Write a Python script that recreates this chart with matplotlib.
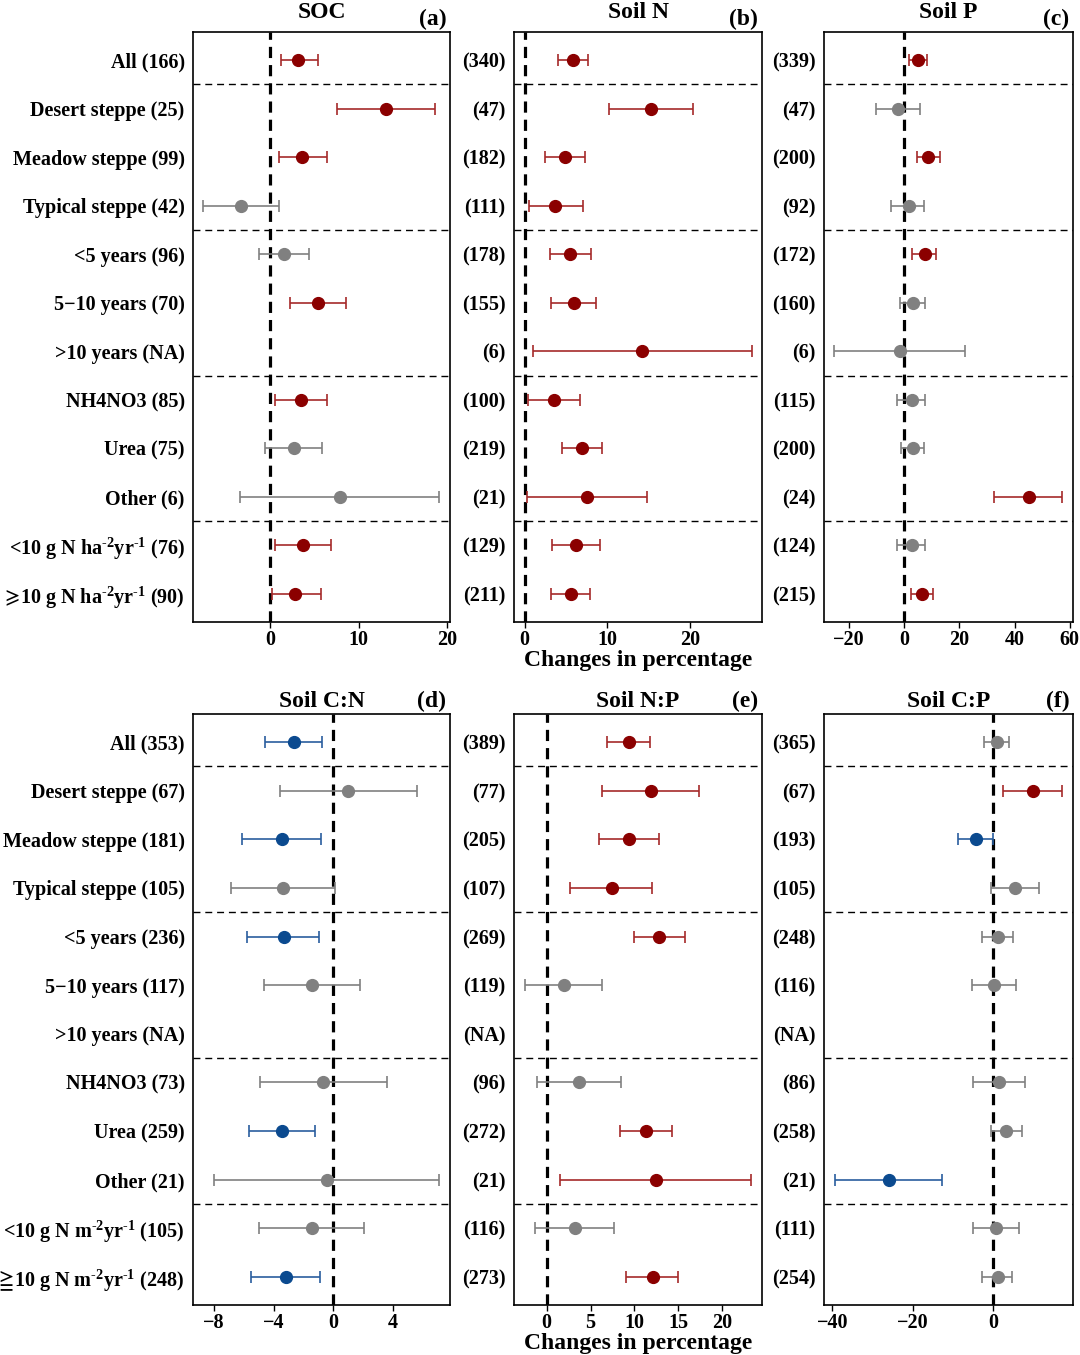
import numpy as np
import matplotlib
matplotlib.use('Agg')
import matplotlib.pyplot as plt

plt.rcParams['font.family'] = ['Liberation Serif', 'DejaVu Serif', 'DejaVu Sans']
plt.rcParams['font.weight'] = 'bold'
plt.rcParams['mathtext.fontset'] = 'custom'
plt.rcParams['mathtext.rm'] = 'Liberation Serif:bold'
plt.rcParams['mathtext.it'] = 'Liberation Serif:italic:bold'
plt.rcParams['mathtext.bf'] = 'Liberation Serif:bold'
plt.rcParams['mathtext.default'] = 'regular'
plt.rcParams['mathtext.fallback'] = 'stix'

# ─── Data ─────────────────────────────────────────────────────────────────────
SUP = r'$^{\text{-2}}$yr$^{\text{-1}}$'
CATS_TOP = ['All', 'Desert steppe', 'Meadow steppe', 'Typical steppe',
            '<5 years', '5\u221210 years', '>10 years',
            'NH4NO3', 'Urea', 'Other',
            '<10 g N ha' + SUP, r'$\!\geqslant\!$10 g N ha' + SUP]
CATS_BOT = ['All', 'Desert steppe', 'Meadow steppe', 'Typical steppe',
            '<5 years', '5\u221210 years', '>10 years',
            'NH4NO3', 'Urea', 'Other',
            '<10 g N m' + SUP, r'$\!\geqq\!$10 g N m' + SUP]

NA = np.nan

# (a) SOC
soc_n    = ['166', '25', '99', '42', '96', '70', 'NA', '85', '75', '6', '76', '90']
soc_mean = [3.2, 13.1, 3.65, -3.3, 1.55, 5.4, NA, 3.45, 2.65, 7.9, 3.7, 2.85]
soc_lo   = [1.2, 7.5, 1.0, -7.6, -1.3, 2.2, NA, 0.5, -0.55, -3.4, 0.5, 0.2]
soc_hi   = [5.4, 18.6, 6.4, 1.0, 4.4, 8.6, NA, 6.4, 5.9, 19.1, 6.9, 5.7]

# (b) Soil N
sn_n    = ['340', '47', '182', '111', '178', '155', '6', '100', '219', '21', '129', '211']
sn_mean = [5.85, 15.3, 4.9, 3.7, 5.45, 5.9, 14.2, 3.55, 6.9, 7.5, 6.2, 5.55]
sn_lo   = [4.0, 10.2, 2.5, 0.5, 3.0, 3.2, 1.0, 0.35, 4.5, 0.3, 3.3, 3.2]
sn_hi   = [7.6, 20.3, 7.3, 7.0, 8.0, 8.6, 27.5, 6.7, 9.3, 14.8, 9.15, 7.9]

# (c) Soil P
sp_n    = ['339', '47', '200', '92', '172', '160', '6', '115', '200', '24', '124', '215']
sp_mean = [5.1, -2.4, 8.7, 1.6, 7.4, 3.15, -1.7, 2.7, 3.0, 45.1, 2.7, 6.5]
sp_lo   = [1.9, -10.4, 4.5, -4.8, 2.9, -1.5, -25.3, -2.5, -1.3, 32.7, -2.5, 2.5]
sp_hi   = [8.1, 5.8, 12.8, 7.3, 11.6, 7.5, 22.2, 7.6, 7.2, 57.3, 7.6, 10.4]

# (d) Soil C:N
cn_n    = ['353', '67', '181', '105', '236', '117', 'NA', '73', '259', '21', '105', '248']
cn_mean = [-2.67, 1.0, -3.47, -3.36, -3.33, -1.42, NA, -0.71, -3.42, -0.42, -1.42, -3.2]
cn_lo   = [-4.6, -3.6, -6.16, -6.84, -5.76, -4.67, NA, -4.93, -5.69, -8.02, -4.96, -5.51]
cn_hi   = [-0.73, 5.64, -0.84, 0.1, -0.96, 1.82, NA, 3.58, -1.2, 7.13, 2.09, -0.91]

# (e) Soil N:P
np_n    = ['389', '77', '205', '107', '269', '119', 'NA', '96', '272', '21', '116', '273']
np_mean = [9.36, 11.86, 9.43, 7.39, 12.84, 1.97, NA, 3.67, 11.29, 12.42, 3.18, 12.05]
np_lo   = [6.86, 6.33, 5.98, 2.69, 9.89, -2.42, NA, -1.14, 8.33, 1.52, -1.29, 9.09]
np_hi   = [11.78, 17.35, 12.84, 12.0, 15.8, 6.36, NA, 8.52, 14.24, 23.3, 7.69, 15.0]

# (f) Soil C:P
cp_n    = ['365', '67', '193', '105', '248', '116', 'NA', '86', '258', '21', '111', '254']
cp_mean = [1.0, 9.9, -4.3, 5.5, 1.25, 0.17, NA, 1.5, 3.3, -26.0, 0.67, 1.16]
cp_lo   = [-2.3, 2.5, -8.7, -0.4, -2.7, -5.3, NA, -5.0, -0.5, -39.4, -5.0, -2.8]
cp_hi   = [4.0, 17.2, -0.1, 11.4, 5.0, 5.7, NA, 7.9, 7.1, -12.6, 6.4, 4.7]

# ─── Style ────────────────────────────────────────────────────────────────────
RED_PT, RED_LN = '#8b0000', '#a52a2a'
BLUE_PT, BLUE_LN = '#0b4a8f', '#2a5e9e'
GRAY = '#808080'

W, H = 1080, 1355
COLS = [(193, 450), (514, 762), (824, 1073)]
ROWS = [(32, 622), (714, 1305)]


def rect(col, row):
    (x0, x1), (y0, y1) = COLS[col], ROWS[row]
    return [x0 / W, 1 - y1 / H, (x1 - x0) / W, (y1 - y0) / H]


def forest(ax, mean, lo, hi, counts, cats, full_labels, xlim, xticks,
           title, tag, title_pad):
    ypos = np.arange(len(mean))
    for y, m, l, h in zip(ypos, mean, lo, hi):
        if np.isnan(m):
            continue
        if l > 0:
            pc, lc = RED_PT, RED_LN
        elif h < 0:
            pc, lc = BLUE_PT, BLUE_LN
        else:
            pc, lc = GRAY, GRAY
        ax.errorbar(m, y, xerr=[[m - l], [h - m]], fmt='o', color=pc,
                    ecolor=lc, elinewidth=1.2, capsize=4, capthick=1.2,
                    markersize=8.5, zorder=4)

    ax.axvline(0, color='black', lw=2.3, ls=(0, (3.5, 2.2)), zorder=3)
    for yb in [0.5, 3.5, 6.5, 9.5]:
        ax.axhline(yb, color='black', lw=1.0, ls=(0, (5, 3.5)), zorder=2)

    ax.set_ylim(len(mean) - 0.42, -0.58)
    ax.set_xlim(*xlim)
    ax.set_xticks(xticks)
    ax.set_yticks(ypos)
    if full_labels:
        labels = [f'{c} ({n})' for c, n in zip(cats, counts)]
    else:
        labels = [f'({n})' for n in counts]
    ax.set_yticklabels(labels, fontsize=14.5, fontweight='bold')
    ax.tick_params(axis='y', length=0, pad=6)
    ax.tick_params(axis='x', length=4, width=1.0, pad=2, labelsize=14.5)
    for lab in ax.get_xticklabels():
        lab.set_fontweight('bold')
    for sp in ax.spines.values():
        sp.set_linewidth(1.2)

    ax.set_title(title, fontsize=17, fontweight='bold', pad=title_pad)
    ax.annotate(tag, xy=(0.985, 1.0), xycoords='axes fraction',
                xytext=(0, 5), textcoords='offset points',
                ha='right', va='baseline', fontsize=17, fontweight='bold')


fig = plt.figure(figsize=(W / 100, H / 100), dpi=100)

panels = [
    (0, 0, soc_mean, soc_lo, soc_hi, soc_n, CATS_TOP, True, (-8.7, 20.3), [0, 10, 20], 'SOC', '(a)'),
    (1, 0, sn_mean, sn_lo, sn_hi, sn_n, CATS_TOP, False, (-1.3, 28.7), [0, 10, 20], 'Soil N', '(b)'),
    (2, 0, sp_mean, sp_lo, sp_hi, sp_n, CATS_TOP, False, (-29.1, 61.2), [-20, 0, 20, 40, 60], 'Soil P', '(c)'),
    (0, 1, cn_mean, cn_lo, cn_hi, cn_n, CATS_BOT, True, (-9.42, 7.84), [-8, -4, 0, 4], 'Soil C:N', '(d)'),
    (1, 1, np_mean, np_lo, np_hi, np_n, CATS_BOT, False, (-3.7, 24.5), [0, 5, 10, 15, 20], 'Soil N:P', '(e)'),
    (2, 1, cp_mean, cp_lo, cp_hi, cp_n, CATS_BOT, False, (-42.1, 19.9), [-40, -20, 0], 'Soil C:P', '(f)'),
]

for col, row, m, l, h, n, cats, full, xl, xt, title, tag in panels:
    ax = fig.add_axes(rect(col, row))
    forest(ax, m, l, h, n, cats, full, xl, xt, title, tag,
           title_pad=10 if row == 0 else 5)
    if col == 1:
        ax.set_xlabel('Changes in percentage', fontsize=17,
                      fontweight='bold', labelpad=0)

fig.savefig('out.png', dpi=100)
